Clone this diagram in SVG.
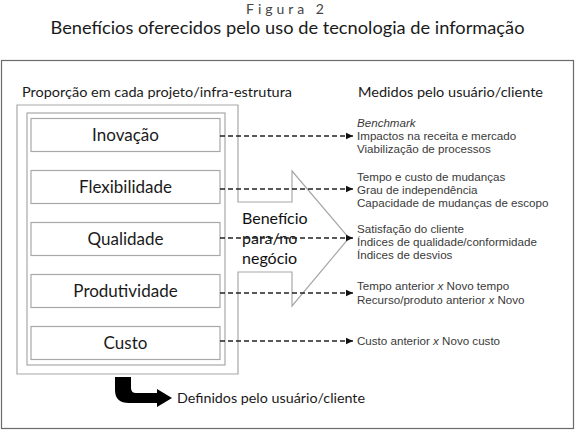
<svg xmlns="http://www.w3.org/2000/svg" width="575" height="430" viewBox="0 0 575 430">
<defs>
<marker id="ah" markerWidth="8" markerHeight="8" refX="7" refY="4" orient="auto" markerUnits="userSpaceOnUse">
<path d="M0,0.8 L7,4 L0,7.2 Z" fill="#111"/>
</marker>
<style>
text{font-family:Lato,"Open Sans","Noto Sans",sans-serif;}
.box{fill:#fff;stroke:#a8a8a8;stroke-width:1.2;}
.lbl{font-size:17px;fill:#1a1a1a;text-anchor:middle;}
.sm{font-family:"Liberation Sans",Arial,sans-serif;font-size:11.6px;fill:#3a3a3a;}
.hd{font-size:14px;fill:#1a1a1a;}
.dash{stroke:#222;stroke-width:1.3;stroke-dasharray:5 3;fill:none;marker-end:url(#ah);}
</style>
</defs>
<rect width="575" height="430" fill="#fff"/>
<text x="287" y="14" style="font-size:14px;fill:#444;letter-spacing:4px" text-anchor="middle">Figura 2</text>
<text x="287.5" y="34" style="font-size:17.5px;fill:#1a1a1a" text-anchor="middle" textLength="474" lengthAdjust="spacingAndGlyphs">Benefícios oferecidos pelo uso de tecnologia de informação</text>
<rect x="1.5" y="60.5" width="572" height="368" fill="none" stroke="#6a6a6a" stroke-width="1.2"/>
<g id="frame-shape">
<polygon points="17,105 238,105 238,202 292,202 292,171 349,238 292,306 292,272 238,272 238,374 17,374" fill="#fff" stroke="#a8a8a8" stroke-width="1.2"/>
<rect x="27" y="113" width="198" height="252" fill="none" stroke="#a8a8a8" stroke-width="1.2"/>
</g>
<text class="hd" x="22" y="97" textLength="270" lengthAdjust="spacingAndGlyphs">Proporção em cada projeto/infra-estrutura</text>
<text class="hd" x="358" y="97" textLength="185" lengthAdjust="spacingAndGlyphs">Medidos pelo usuário/cliente</text>
<g id="n-inovacao"><rect class="box" x="31" y="118.5" width="189" height="33"/><text class="lbl" x="125.5" y="141">Inovação</text></g>
<g id="n-flexibilidade"><rect class="box" x="31" y="170.5" width="189" height="33"/><text class="lbl" x="125.5" y="193">Flexibilidade</text></g>
<g id="n-qualidade"><rect class="box" x="31" y="222.5" width="189" height="33"/><text class="lbl" x="125.5" y="245">Qualidade</text></g>
<g id="n-produtividade"><rect class="box" x="31" y="274.5" width="189" height="33"/><text class="lbl" x="125.5" y="297">Produtividade</text></g>
<g id="n-custo"><rect class="box" x="31" y="326.5" width="189" height="33"/><text class="lbl" x="125.5" y="349">Custo</text></g>
<g id="n-beneficio">
<text x="242" y="224" style="font-size:16px;fill:#111">Benefício</text>
<text x="242" y="244" style="font-size:16px;fill:#111">para/no</text>
<text x="242" y="264" style="font-size:16px;fill:#111">negócio</text>
</g>
<g id="connectors">
<line class="dash" x1="220" y1="136" x2="353" y2="136"/>
<line class="dash" x1="220" y1="189" x2="353" y2="189"/>
<line class="dash" x1="220" y1="238" x2="353" y2="238"/>
<line class="dash" x1="220" y1="293" x2="353" y2="293"/>
<line class="dash" x1="220" y1="341" x2="353" y2="341"/>
</g>
<g id="m-inovacao">
<text class="sm" x="357" y="127" font-style="italic">Benchmark</text>
<text class="sm" x="357" y="140">Impactos na receita e mercado</text>
<text class="sm" x="357" y="153">Viabilização de processos</text>
</g>
<g id="m-flexibilidade">
<text class="sm" x="357" y="181">Tempo e custo de mudanças</text>
<text class="sm" x="357" y="194">Grau de independência</text>
<text class="sm" x="357" y="207">Capacidade de mudanças de escopo</text>
</g>
<g id="m-qualidade">
<text class="sm" x="357" y="233">Satisfação do cliente</text>
<text class="sm" x="357" y="246">Índices de qualidade/conformidade</text>
<text class="sm" x="357" y="259">Índices de desvios</text>
</g>
<g id="m-produtividade">
<text class="sm" x="357" y="290">Tempo anterior <tspan font-style="italic">x</tspan> Novo tempo</text>
<text class="sm" x="357" y="304">Recurso/produto anterior <tspan font-style="italic">x</tspan> Novo</text>
</g>
<g id="m-custo">
<text class="sm" x="357" y="345">Custo anterior <tspan font-style="italic">x</tspan> Novo custo</text>
</g>
<g id="legend">
<path d="M115,377 L131,377 L131,388 Q131,393 136,393 L157,393 L157,389 L172,398 L157,407 L157,403 L129,403 Q115,403 115,390 Z" fill="#000"/>
<text x="177" y="403" style="font-size:14px;fill:#1a1a1a" textLength="188" lengthAdjust="spacingAndGlyphs">Definidos pelo usuário/cliente</text>
</g>
</svg>
